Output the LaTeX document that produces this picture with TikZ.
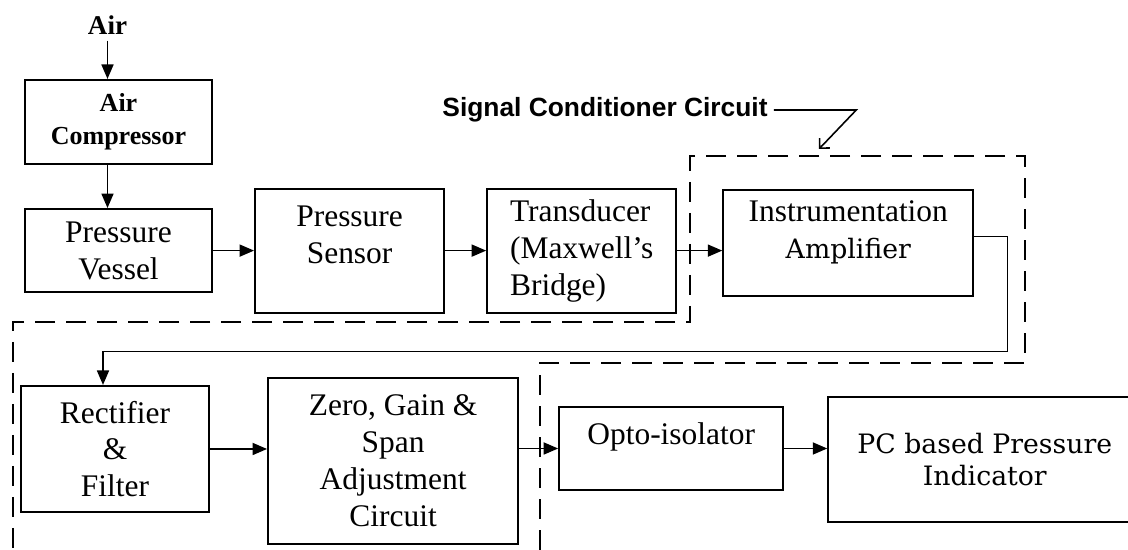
\documentclass[tikz,border=0pt]{standalone}
\usepackage{fontspec}
\setmainfont{Liberation Serif}
\newfontfamily\widefont{DejaVu Serif}
\newfontfamily\headfont{Liberation Sans}
\usepackage{tikz}
\usetikzlibrary{positioning,arrows.meta}
\tikzset{
  >={Triangle[length=2.9mm,width=2.4mm]},
  blk/.style={draw, line width=1.2pt, align=center, inner sep=2pt,
    font=\fontsize{17.9pt}{21pt}\selectfont},
  wide/.style={font=\widefont\fontsize{15.2pt}{18.2pt}\selectfont},
  flow/.style={->, line width=1pt},
  region/.style={line width=0.9pt, dash pattern=on 4mm off 2.2mm},
  lead/.style={-{Straight Barb[angle=90:2mm]}, line width=0.9pt},
}

\begin{document}
\begin{tikzpicture}[node distance=0.82cm]
  \useasboundingbox (0,0) rectangle (22.56,11);
  % air supply
  \node[font=\bfseries\fontsize{15.4pt}{18pt}\selectfont] (air) at (2.15,10.5) {Air};
  \node[blk, minimum width=3.74cm, minimum height=1.68cm,
    font=\bfseries\fontsize{14.8pt}{18.8pt}\selectfont] (comp) at (2.37,8.56) {Air\\Compressor};
  \node[blk, minimum width=3.74cm, minimum height=1.66cm, below=0.86cm of comp] (vessel) {Pressure\\Vessel};
  % upper row
  \node[blk, minimum width=3.78cm, minimum height=2.48cm, text depth=6.2mm, right=of vessel] (sensor) {Pressure\\Sensor};
  \node[blk, align=left, minimum width=3.78cm, minimum height=2.48cm, right=of sensor] (trans) {Transducer\\(Maxwell’s\\Bridge)};
  \node[blk, minimum width=5cm, minimum height=2.12cm, text depth=5.1mm, right=0.9cm of trans, yshift=0.16cm] (inst)
    {Instrumentation\\{\widefont\fontsize{15.2pt}{18.2pt}\selectfont Amplifier}};
  % lower row
  \node[blk, minimum width=3.76cm, minimum height=2.52cm] (rect) at (2.3,2.02) {Rectifier\\\&\\Filter};
  \node[blk, minimum width=5cm, minimum height=3.32cm, right=1.14cm of rect, yshift=-0.24cm] (zero)
    {Zero, Gain \&\\Span\\Adjustment\\Circuit};
  \node[blk, minimum width=4.48cm, minimum height=1.66cm, text depth=6mm, right=0.78cm of zero, yshift=0.25cm] (opto) {Opto-isolator};
  \node[blk, wide, minimum width=6.26cm, minimum height=2.5cm, right=0.86cm of opto, yshift=-0.22cm] (pc)
    {PC based Pressure\\Indicator};
  % signal conditioner
  \node[font=\headfont\bfseries\fontsize{15pt}{18pt}\selectfont] (sig) at (12.1,8.8) {Signal Conditioner Circuit};
  \coordinate (scc) at (16.38,8.02);
  \draw[region] (10.8,0) -- (10.8,3.74) -- (20.5,3.74) -- (20.5,7.88) -- (13.8,7.88)
    -- (13.8,4.56) -- (0.26,4.56) -- (0.26,0);
  \draw[lead] (sig.east) -- ++(1.65,0) -- (scc);

  \draw[flow] (air) -- (air |- comp.north);
  \draw[flow] (air |- comp.south) -- (air |- vessel.north);
  \draw[flow] (vessel) -- (sensor);
  \draw[flow] (sensor) -- (trans);
  \draw[flow] (trans) -- (trans -| inst.west);
  \draw[flow] ([yshift=1.2mm]inst.east) -| ++(0.66,-2.3) -| ([xshift=-2.4mm]rect.north);
  \draw[flow] (rect) -- (rect -| zero.west);
  \draw[flow] (zero.east |- opto) -- (opto);
  \draw[flow] (opto) -- (opto -| pc.west);
\end{tikzpicture}
\end{document}
